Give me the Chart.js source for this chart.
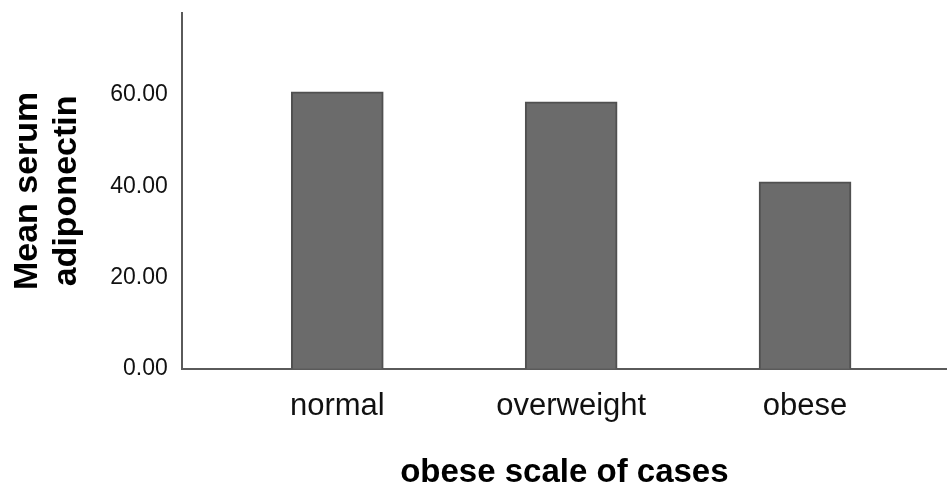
<!DOCTYPE html>
<html>
<head>
<meta charset="utf-8">
<script src="https://cdn.jsdelivr.net/npm/chart.js@4/dist/chart.umd.min.js"></script>
<style>
    html, body { margin: 0; padding: 0; background: #fff; }
    #wrap { width: 947px; height: 490px; }
</style>
</head>
<body>
<div id="wrap"><canvas id="adiponectinChart"></canvas></div>
<script>
const categories = ["normal", "overweight", "obese"];
const meanAdiponectin = [60.7, 58.5, 41.0];
const yTicks = [0, 20, 40, 60];

const axisColor = "#5a5a5a";
const fontFamily = "'Liberation Sans', Arial, sans-serif";

const points = categories.map((name, i) => ({ x: i, y: meanAdiponectin[i] }));

const ctx = document.getElementById("adiponectinChart").getContext("2d");

const chart = new Chart(ctx, {
    type: "bar",
    data: {
        datasets: [
            {
                label: "Mean serum adiponectin",
                data: points,
                backgroundColor: "#6b6b6b",
                borderColor: "#505050",
                borderWidth: 2,
                barThickness: 92,
            },
        ],
    },
    options: {
        responsive: true,
        maintainAspectRatio: false,
        animation: false,
        layout: {
            padding: { top: 13, left: 0, right: 0, bottom: 0 },
        },
        plugins: {
            legend: { display: false },
            tooltip: { enabled: false },
        },
        scales: {
            x: {
                type: "linear",
                offset: false,
                min: -0.665,
                max: 2.607,
                grid: { display: false, drawTicks: false },
                border: { display: true, color: axisColor, width: 2 },
                afterBuildTicks: (axis) => {
                    axis.ticks = categories.map((c, i) => ({ value: i }));
                },
                ticks: {
                    autoSkip: false,
                    maxRotation: 0,
                    padding: 19,
                    color: "#111",
                    font: { family: fontFamily, size: 31 },
                    callback: (value) => categories[value] ?? "",
                },
                title: {
                    display: true,
                    text: "obese scale of cases",
                    color: "#000",
                    font: { family: fontFamily, size: 33, weight: "bold", lineHeight: 1 },
                    padding: { top: 12, bottom: 1 },
                },
            },
            y: {
                min: 0,
                max: 78,
                grid: { display: false, drawTicks: false },
                border: { display: true, color: axisColor, width: 2 },
                afterBuildTicks: (axis) => {
                    axis.ticks = yTicks.map((v) => ({ value: v }));
                },
                // top tick (60) is far from the top, no need to reserve room for it
                afterFit: (axis) => {
                    axis.paddingTop = 0;
                },
                ticks: {
                    padding: 14,
                    color: "#111",
                    font: { family: fontFamily, size: 23 },
                    callback: (value) => Number(value).toFixed(2),
                },
                title: {
                    display: true,
                    text: ["Mean serum", "adiponectin"],
                    color: "#000",
                    font: { family: fontFamily, size: 34, weight: "bold", lineHeight: 1.15 },
                    padding: { top: 8, bottom: 10 },
                },
            },
        },
    },
});
</script>
</body>
</html>
